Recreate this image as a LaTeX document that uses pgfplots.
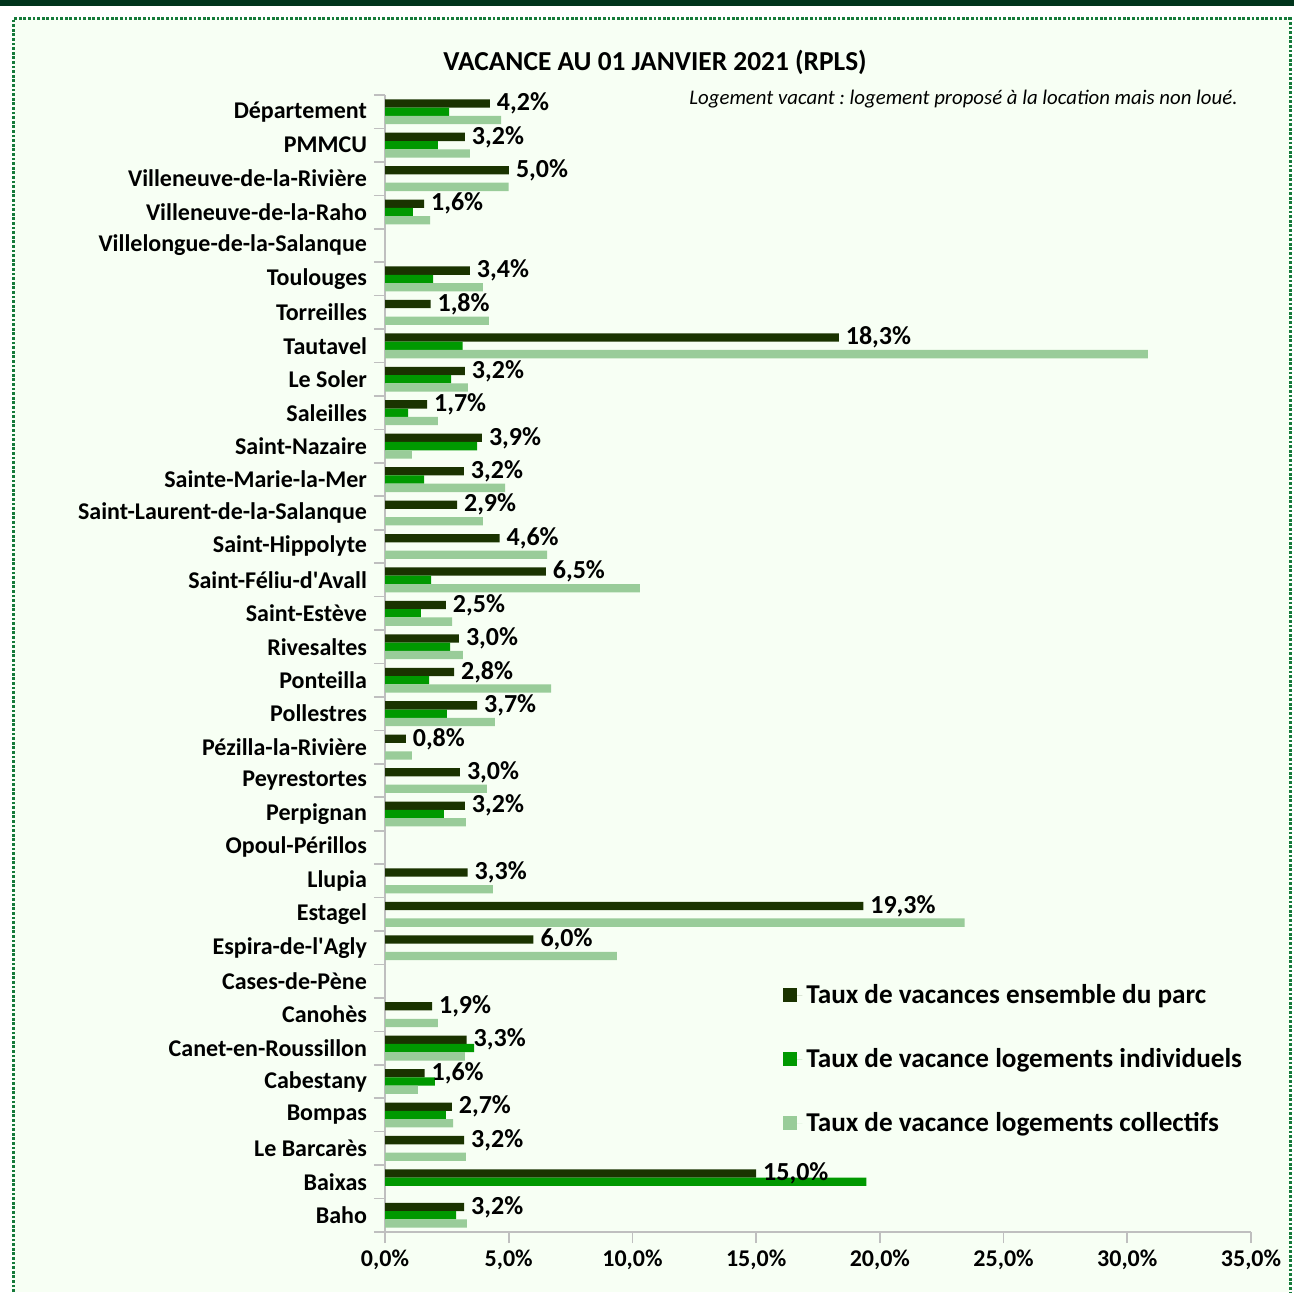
\documentclass[border=0pt]{standalone}
\usepackage{fontspec}
\setmainfont{Carlito}
\usepackage{pgfplots}
\pgfplotsset{compat=1.18}
\frenchspacing
\definecolor{cdark}{HTML}{1A3300}
\definecolor{cmid}{HTML}{009900}
\definecolor{clight}{HTML}{99CC99}
\definecolor{bgc}{HTML}{F7FFF4}
\definecolor{borderc}{HTML}{157A3A}
\definecolor{bandc}{HTML}{00341C}
\definecolor{axgray}{HTML}{BFBFBF}
\begin{document}
\begin{tikzpicture}
\path[use as bounding box] (0,0) rectangle (647pt,646pt);
\fill[white] (0,0) rectangle (647pt,646pt);
\fill[bgc] (6.5pt,0) rectangle (645pt,636.5pt);
\fill[bandc] (0,643pt) rectangle (647pt,646pt);
\draw[borderc, line width=1.5pt, dash pattern=on 1.4pt off 0.9pt] (6.5pt,0) -- (6.5pt,636.5pt) -- (645pt,636.5pt) -- (645pt,0);
\begin{axis}[
  at={(192.5pt,30pt)}, anchor=south west,
  scale only axis, width=433pt, height=568.5pt,
  xbar, bar width=4.15pt,
  xmin=0, xmax=35, ymin=-0.5, ymax=33.5,
  clip=false,
  axis lines*=left,
  axis line style={axgray, line width=0.9pt},
  tick align=outside, major tick length=5.5pt,
  tick style={axgray, line width=0.8pt},
  xtick={0,5,...,35},
  /pgf/number format/assume math mode=true,
  xticklabel={\pgfmathprintnumber[fixed,fixed zerofill,precision=1,use comma]{\tick}\%},
  ticklabel style={font=\bfseries\fontsize{12}{14}\selectfont, text=black},
  ytick={-0.5,0.5,...,33.5},
  y tick label as interval,
  yticklabels={Baho,Baixas,Le Barcarès,Bompas,Cabestany,Canet-en-Roussillon,Canohès,Cases-de-Pène,Espira-de-l\textquotesingle Agly,Estagel,Llupia,Opoul-Périllos,Perpignan,Peyrestortes,Pézilla-la-Rivière,Pollestres,Ponteilla,Rivesaltes,Saint-Estève,Saint-Féliu-d\textquotesingle Avall,Saint-Hippolyte,Saint-Laurent-de-la-Salanque,Sainte-Marie-la-Mer,Saint-Nazaire,Saleilles,Le Soler,Tautavel,Torreilles,Toulouges,Villelongue-de-la-Salanque,Villeneuve-de-la-Raho,Villeneuve-de-la-Rivière,PMMCU,Département},
  legend style={at={(rel axis cs:0.4596,0.222)}, anchor=north west, draw=none, fill=none,
    font=\bfseries\fontsize{13.6}{16}\selectfont, row sep=17pt, inner sep=0pt},
  legend cell align=left,
  legend image code/.code={\draw[#1, draw=none] (0pt,-3.5pt) rectangle (7pt,3.5pt); \path (0pt,0pt) -- (9.5pt,0pt);},
]
\addplot[draw=none, fill=cdark, bar shift=4.15pt, point meta=x,
  nodes near coords={\pgfmathprintnumber[fixed,fixed zerofill,precision=1,use comma]{\pgfplotspointmeta}\%},
  nodes near coords style={font=\bfseries\fontsize{13}{15}\selectfont, text=black, anchor=west}]
coordinates {
(3.2,0) (15.0,1) (3.2,2) (2.7,3) (1.6,4) (3.3,5) (1.9,6)
(6.0,8) (19.33,9) (3.34,10) (3.23,12) (3.03,13) (0.84,14)
(3.72,15) (2.79,16) (2.99,17) (2.46,18) (6.5,19) (4.63,20) (2.91,21)
(3.19,22) (3.92,23) (1.7,24) (3.23,25) (18.34,26) (1.84,27) (3.43,28)
(1.58,30) (5.01,31) (3.23,32) (4.24,33)
};
\addlegendentry{Taux de vacances ensemble du parc}
\addplot[draw=none, fill=cmid, bar shift=0pt]
coordinates {
(2.87,0) (19.45,1) (2.46,3) (2.02,4) (3.6,5)
(2.38,12) (2.5,15) (1.78,16) (2.63,17) (1.45,18) (1.86,19)
(1.58,22) (3.72,23) (0.93,24) (2.67,25) (3.14,26) (1.94,28)
(1.13,30) (2.14,32) (2.59,33)
};
\addlegendentry{Taux de vacance logements individuels}
\addplot[draw=none, fill=clight, bar shift=-4.15pt]
coordinates {
(3.31,0) (3.27,2) (2.75,3) (1.33,4) (3.23,5) (2.14,6)
(9.37,8) (23.43,9) (4.36,10) (3.27,12) (4.12,13) (1.09,14)
(4.44,15) (6.71,16) (3.15,17) (2.71,18) (10.3,19) (6.55,20) (3.96,21)
(4.85,22) (1.09,23) (2.14,24) (3.35,25) (30.83,26) (4.2,27) (3.96,28)
(1.82,30) (5.0,31) (3.43,32) (4.69,33)
};
\addlegendentry{Taux de vacance logements collectifs}
\end{axis}
\node[font=\bfseries\fontsize{13.7}{16}\selectfont] at (327.5pt,615pt) {VACANCE AU 01 JANVIER 2021 (RPLS)};
\node[anchor=east, font=\itshape\fontsize{10.4}{12}\selectfont, inner sep=0pt] at (619pt,596.5pt) {Logement vacant : logement proposé à la location mais non loué.};
\end{tikzpicture}
\end{document}
